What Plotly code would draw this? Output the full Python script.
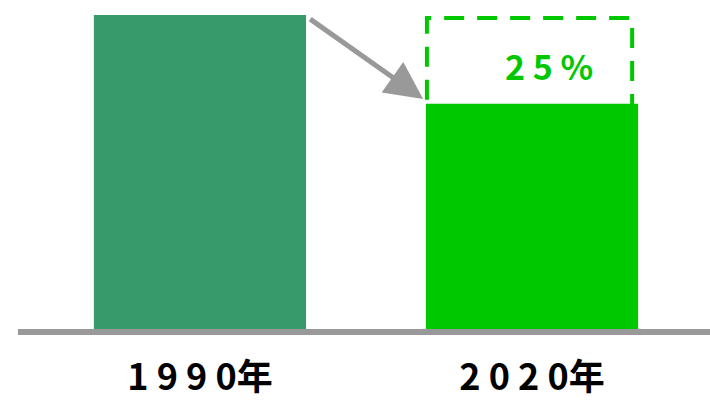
import plotly.graph_objects as go

categories = ["1 9 9 0年", "2 0 2 0年"]
values = [100, 72]
bar_colors = ["#369a6a", "#00c800"]
reduction_label = "2 5 %"
box_top = 99

xpos = [0, 1]
bar_width = 0.639

fig = go.Figure()
fig.add_trace(go.Bar(x=xpos, y=values, width=bar_width, marker=dict(color=bar_colors, line=dict(width=0)),
                     hoverinfo="skip"))

# dashed box showing the reduction (bottom edge hidden under the bar)
fig.add_shape(type="rect", x0=xpos[1] - bar_width / 2 + 0.003, x1=xpos[1] + bar_width / 2 - 0.018,
              y0=values[1] - 1, y1=box_top, line=dict(color="#00c800", width=4, dash="20px,13px"),
              fillcolor="rgba(0,0,0,0)", layer="below")

# baseline
fig.add_shape(type="line", xref="paper", yref="paper", x0=0, x1=1, y0=0, y1=0,
              line=dict(color="#999999", width=6), layer="above")

# arrow from old value to new value
fig.add_annotation(x=0.672, y=values[1] + 1.5, ax=xpos[0] + bar_width / 2 + 0.008, ay=box_top,
                   xref="x", yref="y", axref="x", ayref="y", text="", showarrow=True,
                   arrowhead=2, arrowsize=1.5, arrowwidth=5, arrowcolor="#999999")

fig.add_annotation(x=xpos[1], y=(values[1] + box_top) / 2, xshift=17, yshift=-5, text=reduction_label,
                   showarrow=False,
                   font=dict(family="Noto Sans CJK JP", size=34, color="#00c800", weight="bold"))

fig.update_layout(
    width=710, height=404,
    margin=dict(l=18, r=0, t=0, b=72, autoexpand=False),
    paper_bgcolor="white", plot_bgcolor="white",
    showlegend=False,
    xaxis=dict(range=[-0.548, 1.536], tickvals=xpos, ticktext=categories, showgrid=False,
               zeroline=False, showline=False, ticks="", ticklabelstandoff=21, automargin=False,
               tickfont=dict(family="Noto Sans CJK JP", size=36, color="black", weight="bold")),
    yaxis=dict(range=[0, 104.7], visible=False, automargin=False),
)

fig.write_html("out.html", config={"displayModeBar": False},
               post_script="document.body.style.margin='0';document.body.style.overflow='hidden';")
